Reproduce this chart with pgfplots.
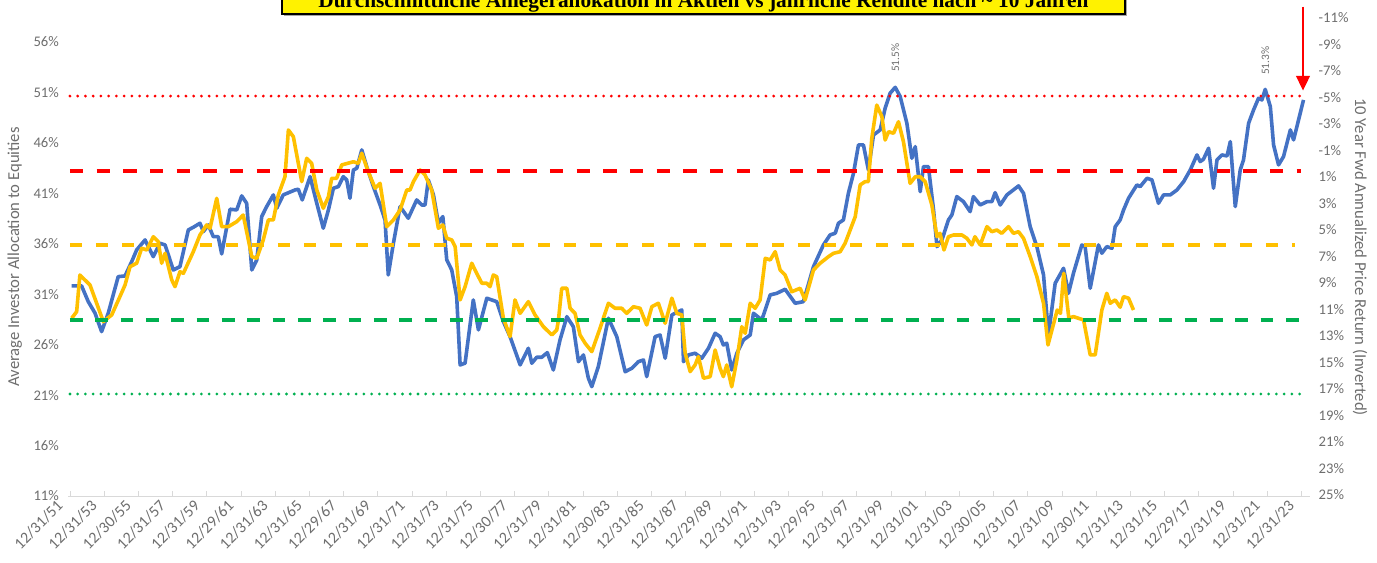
\documentclass[border=0pt]{standalone}
\usepackage{fontspec}
\setmainfont{Carlito}
\newfontfamily\titlefont{Liberation Serif}
\usepackage{pgfplots}
\pgfplotsset{compat=1.18}
\usepackage{pgfplotstable}
\usetikzlibrary{arrows.meta}
\definecolor{cblue}{HTML}{4472C4}
\definecolor{cyellow}{HTML}{FFC000}
\definecolor{cred}{HTML}{FF0000}
\definecolor{cgreen}{HTML}{00B050}
\definecolor{ctext}{HTML}{6E6E6E}
\definecolor{caxis}{HTML}{D9D9D9}

\pgfplotstableread{
t v
1952.10 31.82
1952.68 31.82
1953.07 30.26
1953.46 29.14
1953.85 27.29
1954.24 29.14
1954.82 32.74
1955.22 32.81
1955.61 34.23
1955.90 35.39
1956.39 36.38
1956.87 34.72
1957.26 36.05
1957.56 35.88
1958.04 33.40
1958.43 33.73
1958.92 37.37
1959.21 37.63
1959.60 38.03
1959.80 37.20
1960.09 37.86
1960.38 36.70
1960.67 36.70
1960.87 34.99
1961.36 39.42
1961.75 39.35
1962.04 40.74
1962.33 40.01
1962.63 33.40
1962.92 34.39
1963.21 38.69
1963.50 39.68
1963.89 40.84
1964.09 39.52
1964.47 40.84
1965.16 41.33
1965.35 41.40
1965.58 40.34
1966.04 42.65
1966.43 40.01
1966.81 37.54
1967.11 39.35
1967.40 41.50
1967.69 41.66
1967.98 42.65
1968.18 42.32
1968.37 40.51
1968.57 43.31
1968.77 43.48
1969.06 45.30
1969.35 43.64
1969.74 41.66
1970.13 39.84
1970.42 38.36
1970.61 32.91
1970.91 36.05
1971.30 39.68
1971.78 38.53
1972.27 40.34
1972.57 39.84
1972.76 39.84
1972.95 42.32
1973.25 40.84
1973.54 38.03
1973.80 38.69
1974.03 34.39
1974.32 33.40
1974.61 30.76
1974.81 23.99
1975.10 24.16
1975.58 30.43
1975.88 27.46
1976.37 30.60
1976.95 30.26
1977.34 28.28
1977.73 26.79
1978.32 23.99
1978.80 25.64
1979.00 24.16
1979.29 24.75
1979.58 24.75
1979.91 25.21
1980.26 23.49
1980.65 26.46
1981.05 28.77
1981.43 27.78
1981.73 24.31
1982.02 24.98
1982.31 22.67
1982.51 21.84
1982.89 23.82
1983.48 28.62
1983.97 26.79
1984.46 23.32
1984.85 23.66
1985.23 24.31
1985.53 24.48
1985.72 22.83
1986.21 26.79
1986.50 26.96
1986.80 24.65
1987.19 28.94
1987.38 29.11
1987.77 29.44
1987.87 24.31
1988.16 24.98
1988.55 25.15
1988.94 24.65
1989.33 25.64
1989.72 27.13
1990.01 26.79
1990.20 25.97
1990.40 26.14
1990.69 23.49
1990.99 25.15
1991.37 26.46
1991.77 26.96
1991.96 29.11
1992.45 28.45
1992.94 30.93
1993.33 31.09
1993.81 31.49
1994.40 30.10
1994.88 30.26
1995.47 33.73
1996.05 35.88
1996.44 36.87
1996.74 37.04
1996.93 38.03
1997.22 38.36
1997.51 41.00
1997.81 42.99
1998.10 45.79
1998.39 45.79
1998.68 43.31
1998.98 46.78
1999.37 47.28
1999.66 49.43
1999.95 50.92
2000.25 51.50
2000.54 50.58
2000.93 47.94
2001.22 44.47
2001.42 45.62
2001.71 41.16
2001.90 43.64
2002.19 43.64
2002.49 39.35
2002.69 35.71
2002.98 36.38
2003.36 38.36
2003.56 38.85
2003.85 40.67
2004.24 40.17
2004.63 39.18
2004.82 40.67
2005.22 39.84
2005.61 40.17
2005.90 40.17
2006.09 41.06
2006.39 39.84
2006.78 40.84
2007.46 41.73
2007.75 41.00
2008.14 37.69
2008.53 35.71
2008.92 32.91
2009.21 26.96
2009.60 32.08
2010.09 33.57
2010.38 31.09
2010.67 33.08
2011.16 35.88
2011.35 35.71
2011.65 31.59
2012.13 35.88
2012.33 35.06
2012.62 35.71
2012.92 35.55
2013.11 37.69
2013.40 38.36
2013.60 39.35
2013.89 40.51
2014.38 41.83
2014.57 41.66
2014.97 42.49
2015.26 42.32
2015.64 40.01
2015.94 40.84
2016.33 40.84
2016.72 41.33
2017.11 42.15
2017.50 43.31
2017.89 44.80
2018.08 44.14
2018.27 44.37
2018.57 45.46
2018.86 41.50
2019.06 44.30
2019.35 44.80
2019.65 44.70
2019.84 46.12
2020.13 39.68
2020.42 43.31
2020.61 44.30
2020.91 47.94
2021.20 49.26
2021.49 50.42
2021.69 50.25
2021.88 51.30
2022.18 49.59
2022.37 45.79
2022.66 43.81
2022.95 44.63
2023.35 47.28
2023.54 46.29
2023.83 48.27
2024.12 50.25
}\alloc

\pgfplotstableread{
t r
1952.10 11.66
1952.39 11.17
1952.58 8.40
1953.17 9.15
1953.56 10.53
1953.95 11.92
1954.44 11.41
1954.92 10.03
1955.22 9.15
1955.51 7.77
1955.90 7.51
1956.19 6.38
1956.49 6.51
1956.87 5.51
1957.16 5.88
1957.36 7.51
1957.56 6.76
1957.95 8.77
1958.14 9.28
1958.43 8.15
1958.63 8.27
1959.21 6.64
1959.60 5.38
1959.99 4.62
1960.19 4.87
1960.58 2.61
1960.87 4.75
1961.26 4.75
1961.75 4.37
1962.13 3.87
1962.63 7.01
1962.92 7.14
1963.30 5.75
1963.60 4.24
1963.89 4.24
1964.18 2.36
1964.57 0.98
1964.77 -2.55
1965.06 -2.04
1965.55 1.35
1965.84 -0.41
1966.13 -0.03
1966.43 1.98
1966.81 3.36
1967.11 2.49
1967.30 1.10
1967.59 1.10
1967.89 0.09
1968.57 -0.15
1968.86 -0.03
1969.06 -0.79
1969.44 0.60
1969.84 1.85
1970.13 1.48
1970.52 4.75
1970.91 4.24
1971.30 3.49
1971.69 1.98
1971.88 1.98
1972.08 1.35
1972.47 0.47
1972.76 0.85
1973.15 1.98
1973.54 4.87
1973.80 4.62
1974.03 5.63
1974.32 5.75
1974.52 6.26
1974.81 10.28
1975.10 9.28
1975.49 7.51
1975.78 8.27
1976.08 9.02
1976.37 9.02
1976.56 9.28
1976.75 8.40
1976.95 8.52
1977.34 11.66
1977.73 13.05
1978.02 10.28
1978.32 11.29
1978.80 10.41
1979.19 11.41
1979.68 12.30
1980.17 12.92
1980.46 12.55
1980.56 11.79
1980.75 9.40
1981.05 9.40
1981.24 10.91
1981.53 11.29
1981.82 12.92
1982.12 13.55
1982.51 14.18
1982.99 12.42
1983.48 10.53
1983.87 10.91
1984.26 10.91
1984.55 11.29
1984.94 10.79
1985.33 10.91
1985.72 12.17
1986.02 10.79
1986.40 10.53
1986.80 12.04
1987.19 10.15
1987.48 11.29
1987.77 11.41
1987.97 14.31
1988.26 15.69
1988.55 15.19
1988.74 14.56
1989.04 16.19
1989.43 16.07
1989.72 14.06
1990.01 15.44
1990.20 16.07
1990.40 15.19
1990.69 16.83
1990.99 14.81
1991.28 12.30
1991.48 12.80
1991.77 10.53
1992.06 10.91
1992.35 10.28
1992.65 7.14
1992.94 7.26
1993.23 6.64
1993.52 8.02
1993.81 8.40
1994.20 9.66
1994.69 9.40
1994.98 10.28
1995.47 8.02
1995.86 7.51
1996.35 7.01
1996.64 6.76
1997.03 6.64
1997.32 6.00
1997.91 4.00
1998.20 1.60
1998.49 1.35
1998.68 1.35
1998.88 -1.92
1999.17 -4.43
1999.47 -3.55
1999.66 -1.79
1999.86 -2.42
2000.15 -2.30
2000.44 -3.17
2000.73 -1.66
2001.12 1.48
2001.42 0.98
2001.71 0.98
2002.00 1.35
2002.39 3.11
2002.69 5.51
2002.87 5.25
2003.10 6.51
2003.36 5.51
2003.65 5.38
2004.15 5.38
2004.44 5.63
2004.73 6.13
2004.91 5.51
2005.22 6.13
2005.61 4.75
2005.90 5.13
2006.19 5.00
2006.48 5.25
2006.87 4.75
2007.16 5.25
2007.46 5.13
2007.75 5.63
2008.14 7.01
2008.53 8.52
2008.92 10.53
2009.18 13.68
2009.72 11.04
2009.91 11.29
2010.10 8.27
2010.40 11.66
2010.67 11.54
2011.26 11.79
2011.65 14.43
2011.94 14.43
2012.33 11.04
2012.62 9.78
2012.82 10.53
2013.11 10.28
2013.40 10.83
2013.60 10.03
2013.89 10.15
2014.18 11.04
}\ret

\begin{document}
\begin{tikzpicture}
\pgfplotsset{common/.style={
  scale only axis, width=931.3pt, height=358.5pt,
  at={(51.2pt,-372pt)}, anchor=south west,
  xmin=1951.9, xmax=2024.5,
  /pgf/number format/assume math mode=true,
  ticklabel style={font=\fontsize{11}{13}\selectfont, text=ctext},
}}
\begin{axis}[common,
  axis x line*=bottom, axis y line*=left,
  y axis line style={draw=none},
  x axis line style={caxis, line width=0.75pt},
  ymin=11, ymax=58.37, ytick={11,16,...,56},
  yticklabels={11\%,16\%,21\%,26\%,31\%,36\%,41\%,46\%,51\%,56\%},
  yticklabel style={xshift=-3.5pt},
  ytick style={draw=none},
  xtick={1952,1954,...,2024},
  xticklabels={12/31/51,12/31/53,12/30/55,12/31/57,12/31/59,12/29/61,12/31/63,12/31/65,12/29/67,12/31/69,12/31/71,12/31/73,12/31/75,12/30/77,12/31/79,12/31/81,12/30/83,12/31/85,12/31/87,12/29/89,12/31/91,12/31/93,12/29/95,12/31/97,12/31/99,12/31/01,12/31/03,12/30/05,12/31/07,12/31/09,12/30/11,12/31/13,12/31/15,12/29/17,12/31/19,12/31/21,12/31/23},
  xticklabel style={xshift=-5pt, yshift=-3pt, rotate=45, anchor=east, font=\fontsize{12}{14}\selectfont, text=ctext},
  minor x tick num=7,
  x tick style={caxis, line width=0.6pt},
  tick align=inside, major tick length=4pt, minor tick length=4pt,
]
\addplot[cblue, line width=2.7pt, line join=round] table[x=t,y=v] {\alloc};
\node[rotate=90, anchor=west, font=\fontsize{8.5}{9}\selectfont, text=ctext, inner sep=0pt] at (axis cs:2000.25,53.0) {51.5\%};
\node[rotate=90, anchor=west, font=\fontsize{8.5}{9}\selectfont, text=ctext, inner sep=0pt] at (axis cs:2021.88,52.7) {51.3\%};
\end{axis}
\begin{axis}[common,
  hide x axis, axis y line*=right,
  y axis line style={draw=none}, ytick style={draw=none},
  yticklabel style={xshift=3pt},
  y dir=reverse, ymin=-11, ymax=25.08, ytick={-11,-9,...,25},
  yticklabels={-11\%,-9\%,-7\%,-5\%,-3\%,-1\%,1\%,3\%,5\%,7\%,9\%,11\%,13\%,15\%,17\%,19\%,21\%,23\%,25\%},
]
\addplot[cyellow, line width=2.7pt, line join=round] table[x=t,y=r] {\ret};
\addplot[cred, line width=2.3pt, line cap=round, dash pattern=on 0pt off 5.8pt] coordinates {(1952.0,-5.11) (2024.3,-5.11)};
\addplot[cred, line width=2.8pt, dash pattern=on 10pt off 10pt] coordinates {(1952.0,0.55) (2024.0,0.55)};
\addplot[cyellow, line width=2.8pt, dash pattern=on 9pt off 10.5pt] coordinates {(1952.0,6.13) (2023.6,6.13)};
\addplot[cgreen, line width=2.8pt, dash pattern=on 9.5pt off 9.5pt] coordinates {(1952.0,11.79) (2024.0,11.79)};
\addplot[cgreen, line width=2.3pt, line cap=round, dash pattern=on 0pt off 5.8pt] coordinates {(1952.0,17.38) (2024.3,17.38)};
\end{axis}
% axis titles
\node[rotate=90, font=\fontsize{12.5}{14}\selectfont, text=ctext] at (11pt,-192.75pt) {Average Investor Allocation to Equities};
\node[rotate=-90, font=\fontsize{12.5}{14}\selectfont, text=ctext] at (1020pt,-192.75pt) {10 Year Fwd Annualized Price Return (Inverted)};
% title box
\fill[gray!70] (213pt,-12pt) rectangle (845.25pt,18pt);
\filldraw[fill=yellow, draw=black, line width=0.8pt] (211.5pt,-10.5pt) rectangle (843.75pt,20pt);
\node[anchor=base, font=\titlefont\bfseries\fontsize{16}{19}\selectfont, inner sep=0pt] at (527.6pt,-5.5pt) {Durchschnittliche Anlegerallokation in Aktien vs jährliche Rendite nach \textasciitilde\ 10 Jahren};
% arrow
\draw[cred, line width=2pt, -{Triangle[width=10pt,length=11pt]}] (977.25pt,-5pt) -- (977.25pt,-68pt);
\pgfresetboundingbox
\path[use as bounding box] (0,0) rectangle (1032.75pt,-422.25pt);
\end{tikzpicture}
\end{document}
